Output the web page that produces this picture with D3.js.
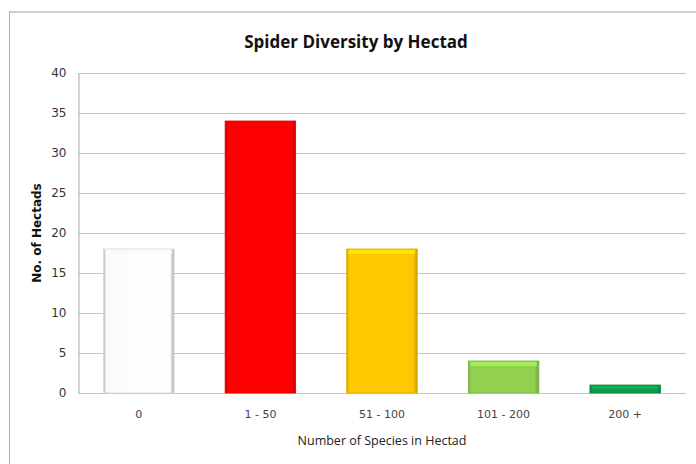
<!DOCTYPE html>
<html>
<head>
<meta charset="utf-8">
<script src="https://cdn.jsdelivr.net/npm/d3@7"></script>
<style>
  html, body { margin: 0; padding: 0; background: #fff; }
  svg { display: block; }
</style>
</head>
<body>
<svg id="chart" width="696" height="464"></svg>
<script>
// Hectad counts by number of spider species recorded
const categories = ["0", "1 - 50", "51 - 100", "101 - 200", "200 +"];
const hectads = [18, 34, 18, 4, 1];
const barColors = ["#ffffff", "#ff0000", "#ffc800", "#92d050", "#109a4a"];
const yTicks = [0, 5, 10, 15, 20, 25, 30, 35, 40];

const svg = d3.select("#chart");
const W = 696, H = 464;
const plot = { left: 78, right: 686, top: 73, bottom: 393 };

// Chart frame
svg.append("line").attr("x1", 9).attr("x2", W).attr("y1", 12).attr("y2", 12)
  .attr("stroke", "#d0d0d0").attr("stroke-width", 2);
svg.append("line").attr("x1", 9.5).attr("x2", 9.5).attr("y1", 11).attr("y2", H)
  .attr("stroke", "#b0b0b0").attr("stroke-width", 1);

const x = d3.scaleBand().domain(categories).range([plot.left, plot.right]).paddingInner(0.42).paddingOuter(0.21);
const y = d3.scaleLinear().domain([0, 40]).range([plot.bottom, plot.top]);

// Gridlines
svg.append("g").selectAll("line").data(yTicks).join("line")
  .attr("x1", plot.left).attr("x2", plot.right)
  .attr("y1", d => y(d) + 0.5).attr("y2", d => y(d) + 0.5)
  .attr("stroke", "#c4c4c4").attr("stroke-width", 1.2);

// Y axis
const yAxis = d3.axisLeft(y).tickValues(yTicks).tickSize(0).tickPadding(12);
const gy = svg.append("g").attr("transform", `translate(${plot.left + 0.5},0)`).call(yAxis);
gy.select(".domain").attr("stroke", "#b8b8b8").attr("stroke-width", 1.2);
gy.selectAll("text").attr("font-family", "DejaVu Sans").attr("font-size", 12).attr("fill", "#333");

// X axis labels
const xAxis = d3.axisBottom(x).tickSize(0).tickPadding(17);
const gx = svg.append("g").attr("transform", `translate(0,${plot.bottom})`).call(xAxis);
gx.select(".domain").remove();
gx.selectAll("text").attr("font-family", "DejaVu Sans").attr("font-size", 11).attr("fill", "#444");

// Bevel gradients for each bar colour
const defs = svg.append("defs");
barColors.forEach((c, i) => {
  const base = d3.color(c);
  const g = defs.append("linearGradient").attr("id", "bevel" + i)
    .attr("x1", 0).attr("x2", 1).attr("y1", 0).attr("y2", 0);
  const edge = i === 0 ? "#b4b4b4" : base.darker(0.5).formatHex();
  g.append("stop").attr("offset", "0%").attr("stop-color", edge);
  g.append("stop").attr("offset", "4%").attr("stop-color", i === 0 ? "#fbfbfb" : c);
  g.append("stop").attr("offset", "94%").attr("stop-color", c);
  g.append("stop").attr("offset", "100%").attr("stop-color", i === 0 ? "#a8a8a8" : base.darker(0.7).formatHex());
});

const bars = svg.append("g").selectAll("g").data(hectads).join("g");
bars.append("rect")
  .attr("x", (d, i) => x(categories[i]))
  .attr("y", d => y(d))
  .attr("width", x.bandwidth())
  .attr("height", d => y(0) - y(d))
  .attr("fill", (d, i) => `url(#bevel${i})`)
  .attr("stroke", (d, i) => i === 0 ? "#d8d8d8" : d3.color(barColors[i]).darker(0.4))
  .attr("stroke-width", 0.8);
// Light top highlight
bars.append("rect")
  .attr("x", (d, i) => x(categories[i]) + 2)
  .attr("y", d => y(d) + 1)
  .attr("width", x.bandwidth() - 4)
  .attr("height", d => Math.min(4, (y(0) - y(d)) / 3))
  .attr("fill", (d, i) => i === 0 ? "#fafafa" : d3.color(barColors[i]).brighter(0.5))
  .attr("opacity", 0.7);

// Titles
svg.append("text").attr("x", 356).attr("y", 48).attr("text-anchor", "middle")
  .attr("font-family", "Open Sans").attr("font-weight", "bold").attr("font-size", 17)
  .attr("fill", "#111").text("Spider Diversity by Hectad");
svg.append("text").attr("x", 382).attr("y", 445).attr("text-anchor", "middle")
  .attr("font-family", "Open Sans").attr("font-size", 12.5)
  .attr("fill", "#222").text("Number of Species in Hectad");
svg.append("text").attr("transform", "translate(41,233) rotate(-90)").attr("text-anchor", "middle")
  .attr("font-family", "DejaVu Sans").attr("font-weight", "bold").attr("font-size", 12)
  .attr("fill", "#111").text("No. of Hectads");
</script>
</body>
</html>
